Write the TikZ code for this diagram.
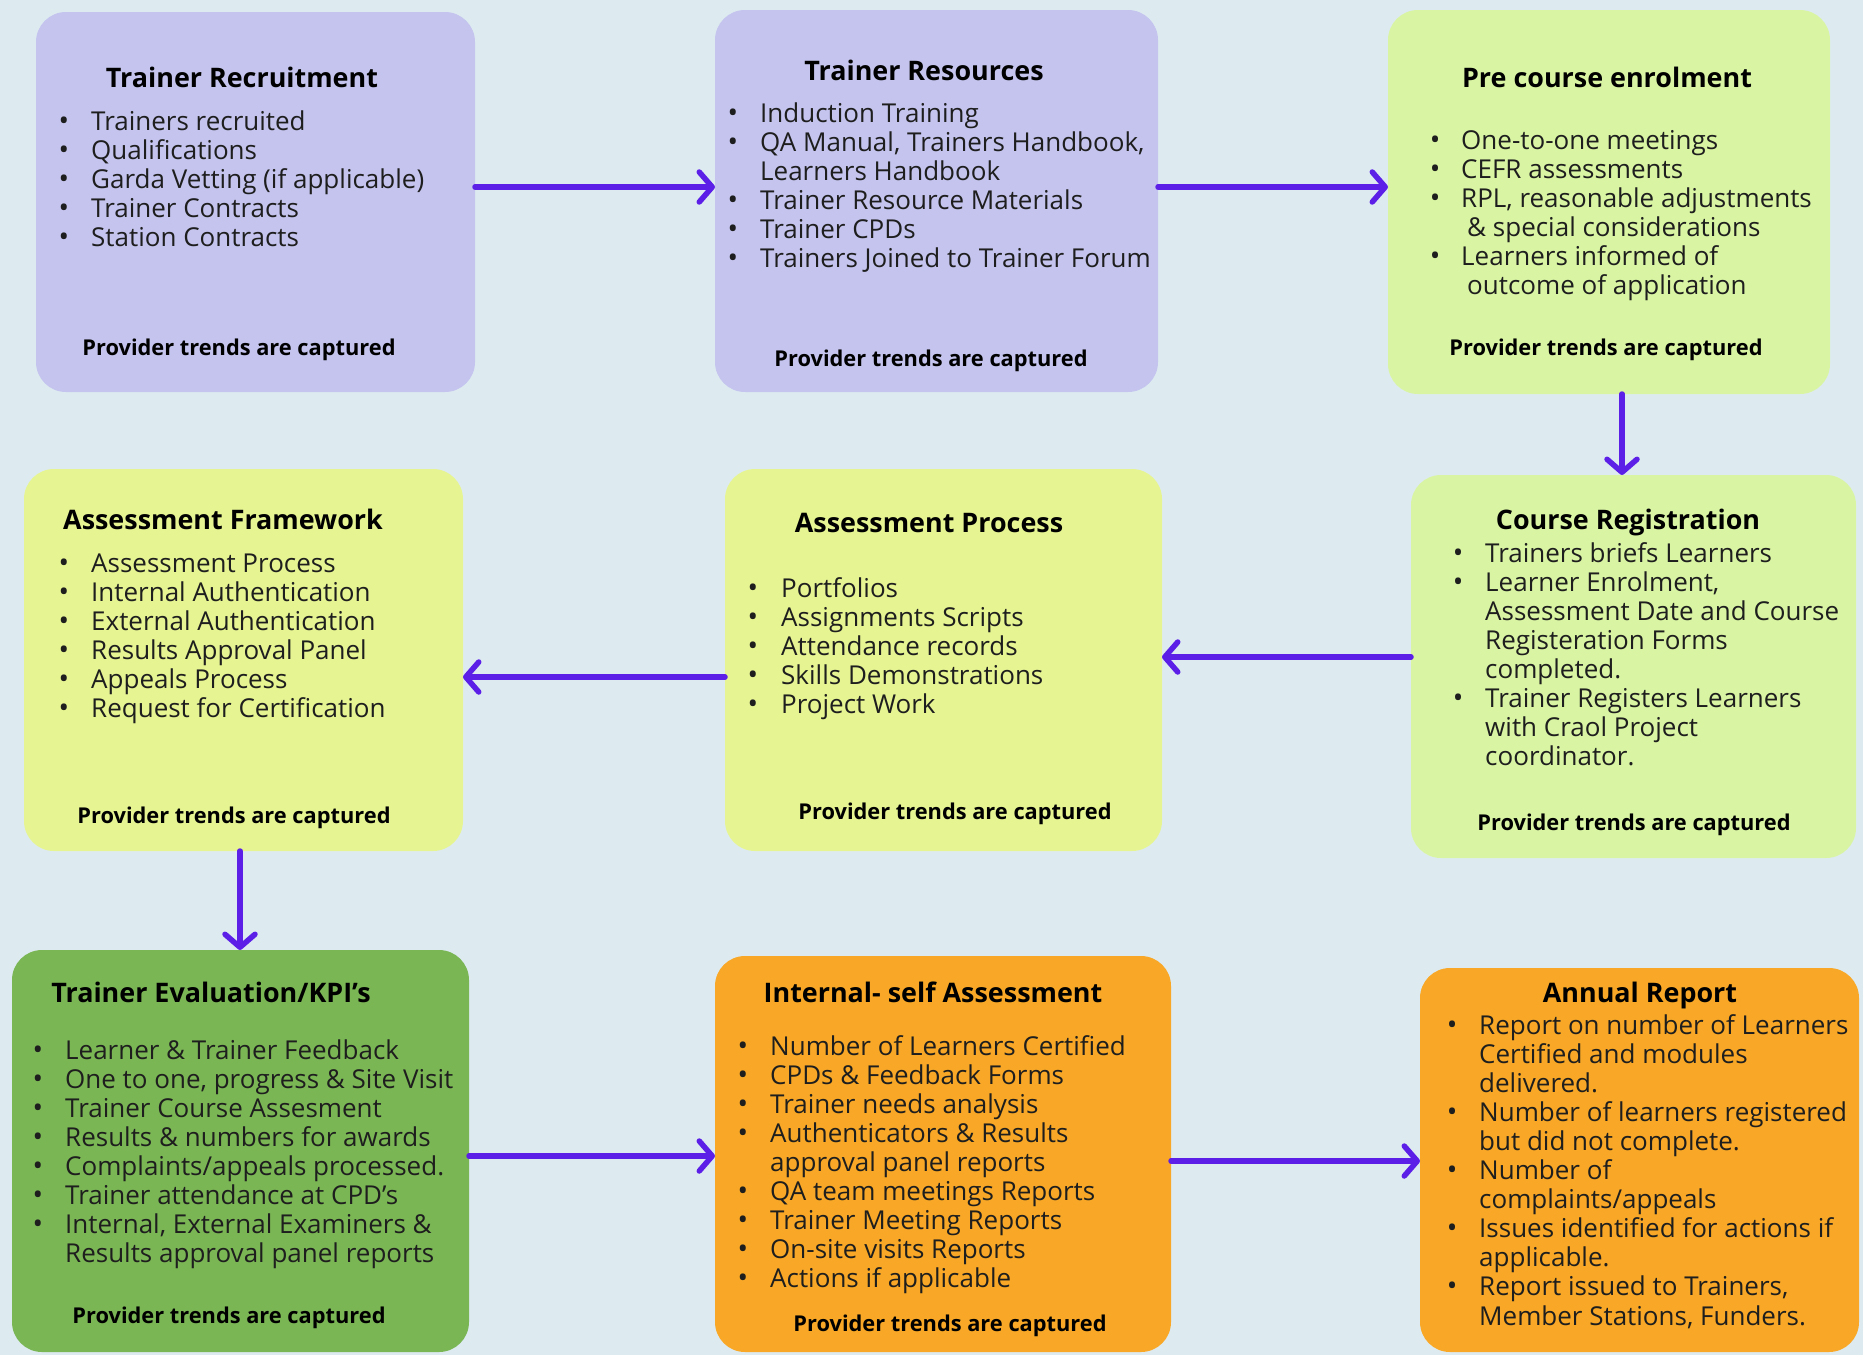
\documentclass[tikz,border=0pt]{standalone}
\usepackage{fontspec}
\setmainfont{Open Sans}
\usetikzlibrary{arrows.meta}
\definecolor{bg}{HTML}{DDEBF1}
\definecolor{lav}{HTML}{C4C4EE}
\definecolor{lgreen}{HTML}{D9F5A3}
\definecolor{ygreen}{HTML}{E6F492}
\definecolor{dgreen}{HTML}{7BB655}
\definecolor{orng}{HTML}{F8A826}
\definecolor{arrowc}{HTML}{5C1FE8}
\definecolor{txt}{HTML}{1E1E1E}
\tikzset{
  box/.style={rounded corners=30pt, inner sep=0pt, outer sep=0pt},
  itm/.style={anchor=base west, inner sep=0pt, font=\fontsize{26}{29}\selectfont, text=txt},
  bul/.style={anchor=base, inner sep=0pt, font=\fontsize{28}{29}\selectfont, text=txt},
  ttl/.style={anchor=base, inner sep=0pt, font=\fontsize{26.9}{30}\selectfont\bfseries, text=black},
  foot/.style={anchor=base, inner sep=0pt, font=\fontsize{21.8}{25}\selectfont\bfseries, text=black},
  arr/.style={draw=arrowc, line width=5.5pt, line cap=round, -{Straight Barb[round,length=13pt,width=30pt]}}
}
\newcommand\bx[6]{%
  \node[box, fill=#6, minimum width={#4-#2}, minimum height={#5-#3}] (#1) at ({(#2+#4)/2},{(#3+#5)/2}) {};}
\newcommand\itemlist[5]{%
  \foreach[count=\n] \kk/\tx in {#5}{%
    \pgfmathsetmacro\yy{#4+(\n-1)*29.1}%
    \if\kk i\def\dx{6}\else\def\dx{0}\fi
    \node[itm] (#1-\n) at ({#3+\dx},\yy) {\tx};
    \if\kk b\node[bul] (#1-b\n) at (#2,\yy) {\textbullet};\fi
  }}
\begin{document}
\begin{tikzpicture}[x=1pt,y=-1pt]
\path[use as bounding box, fill=bg] (0,0) rectangle (1863,1355);

% boxes
\bx{b1}{36}{12}{475}{392}{lav}
\bx{b2}{715}{10}{1158}{392}{lav}
\bx{b3}{1388}{10}{1830}{394}{lgreen}
\bx{b4}{24}{469}{463}{851}{ygreen}
\bx{b5}{725}{469}{1162}{851}{ygreen}
\bx{b6}{1411}{475}{1856}{858}{lgreen}
\bx{b7}{12}{950}{469}{1352}{dgreen}
\bx{b8}{715}{956}{1171}{1352}{orng}
\bx{b9}{1420}{968}{1859}{1352}{orng}

% box 1
\node[ttl] (b1t) at (242,87) {Trainer Recruitment};
\itemlist{l1}{64}{91}{130}{b/Trainers recruited, b/Qualifications, b/Garda Vetting (if applicable), b/Trainer Contracts, b/Station Contracts}
\node[foot] (b1f) at (239,355) {Provider trends are captured};

% box 2
\node[ttl] (b2t) at (924,80) {Trainer Resources};
\itemlist{l2}{733}{760}{122}{b/Induction Training, b/{QA Manual, Trainers Handbook,}, c/Learners Handbook, b/Trainer Resource Materials, b/Trainer CPDs, b/Trainers Joined to Trainer Forum}
\node[foot] (b2f) at (931,366) {Provider trends are captured};

% box 3
\node[ttl] (b3t) at (1607,87) {Pre course enrolment};
\itemlist{l3}{1435}{1461}{149}{b/One-to-one meetings, b/CEFR assessments, b/{RPL, reasonable adjustments}, i/\& special considerations, b/Learners informed of, i/outcome of application}
\node[foot] (b3f) at (1606,355) {Provider trends are captured};

% box 4
\node[ttl] (b4t) at (223,529) {Assessment Framework};
\itemlist{l4}{64}{91}{572}{b/Assessment Process, b/Internal Authentication, b/External Authentication, b/Results Approval Panel, b/Appeals Process, b/Request for Certification}
\node[foot] (b4f) at (234,823) {Provider trends are captured};

% box 5
\node[ttl] (b5t) at (929,532) {Assessment Process};
\itemlist{l5}{753}{781}{597}{b/Portfolios, b/Assignments Scripts, b/Attendance records, b/Skills Demonstrations, b/Project Work}
\node[foot] (b5f) at (955,819) {Provider trends are captured};

% box 6
\node[ttl] (b6t) at (1628,529) {Course Registration};
\itemlist{l6}{1458}{1485}{562}{b/Trainers briefs Learners, b/{Learner Enrolment,}, c/Assessment Date and Course, c/Registeration Forms, c/completed., b/Trainer Registers Learners, c/with Craol Project, c/coordinator.}
\node[foot] (b6f) at (1634,830) {Provider trends are captured};

% box 7
\node[ttl] (b7t) at (211,1002) {Trainer Evaluation/KPI's};
\itemlist{l7}{38}{65}{1059}{b/Learner \& Trainer Feedback, b/{One to one, progress \& Site Visit}, b/Trainer Course Assesment, b/Results \& numbers for awards, b/{Complaints/appeals processed.}, b/Trainer attendance at CPD’s, b/{Internal, External Examiners \&}, c/Results approval panel reports}
\node[foot] (b7f) at (229,1323) {Provider trends are captured};

% box 8
\node[ttl] (b8t) at (933,1002) {Internal- self Assessment};
\itemlist{l8}{743}{770}{1055}{b/Number of Learners Certified, b/CPDs \& Feedback Forms, b/Trainer needs analysis, b/Authenticators \& Results, c/approval panel reports, b/QA team meetings Reports, b/Trainer Meeting Reports, b/On-site visits Reports, b/Actions if applicable}
\node[foot] (b8f) at (950,1331) {Provider trends are captured};

% box 9
\node[ttl] (b9t) at (1640,1002) {Annual Report};
\itemlist{l9}{1452}{1479}{1034}{b/Report on number of Learners, c/Certified and modules, c/delivered., b/Number of learners registered, c/but did not complete., b/Number of, c/{complaints/appeals}, b/Issues identified for actions if, c/applicable., b/{Report issued to Trainers,}, c/{Member Stations, Funders.}}

% arrow rows / columns
\coordinate (r1) at (0,187);
\coordinate (r2a) at (0,657);
\coordinate (r2b) at (0,677);
\coordinate (r3a) at (0,1156);
\coordinate (r3b) at (0,1161);
\coordinate (c1) at (1622,0);
\coordinate (c2) at (240,0);

\draw[arr] (b1.east |- r1) -- (b2.west |- r1);
\draw[arr] (b2.east |- r1) -- (b3.west |- r1);
\draw[arr] (c1 |- b3.south) -- (c1 |- b6.north);
\draw[arr] (b6.west |- r2a) -- (b5.east |- r2a);
\draw[arr] (b5.west |- r2b) -- (b4.east |- r2b);
\draw[arr] (c2 |- b4.south) -- (c2 |- b7.north);
\draw[arr] (b7.east |- r3a) -- (b8.west |- r3a);
\draw[arr] (b8.east |- r3b) -- (b9.west |- r3b);
\end{tikzpicture}
\end{document}
